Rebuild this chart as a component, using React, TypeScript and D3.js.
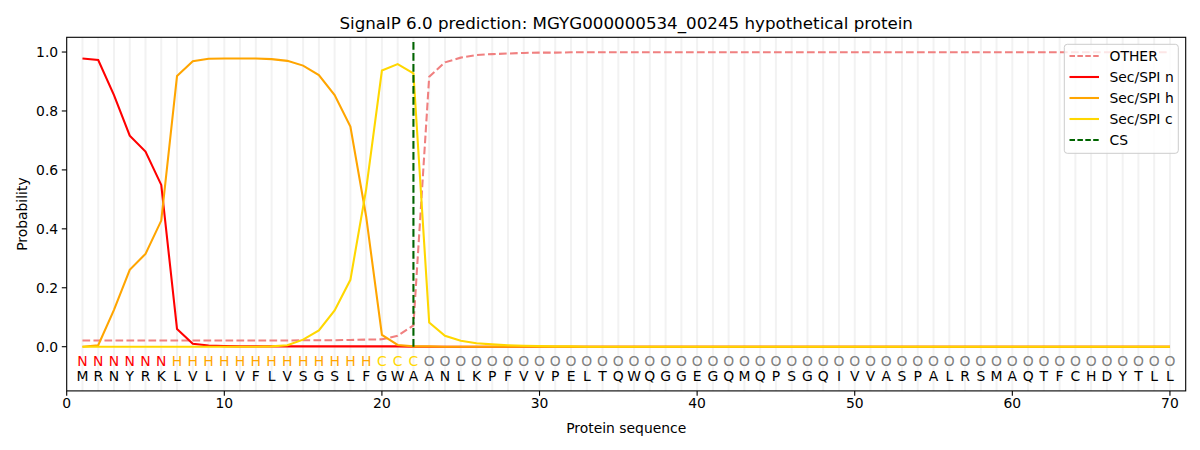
import * as d3 from 'd3'

const sequence = 'MRNYRKLVLIVFLVSGSLFGWAANLKPFVVPELTQWQGGEGQMQPSGQIVVASPALRSMAQTFCHDYTLL'.split('')
const regions = 'NNNNNNHHHHHHHHHHHHHCCCOOOOOOOOOOOOOOOOOOOOOOOOOOOOOOOOOOOOOOOOOOOOOOOO'.split('')

const otherProb = [
  0.021, 0.021, 0.021, 0.021, 0.021, 0.021, 0.021, 0.021, 0.021, 0.021,
  0.021, 0.021, 0.021, 0.021, 0.022, 0.022, 0.022, 0.023, 0.024, 0.025,
  0.037, 0.072, 0.916, 0.965, 0.981, 0.99, 0.993, 0.995, 0.997, 0.998,
  0.998, 0.999, 0.999, 0.999, 0.999, 0.999, 0.999, 0.999, 0.999, 0.999,
  0.999, 0.999, 0.999, 0.999, 0.999, 0.999, 0.999, 0.999, 0.999, 0.999,
  0.999, 0.999, 0.999, 0.999, 0.999, 0.999, 0.999, 0.999, 0.999, 0.999,
  0.999, 0.999, 0.999, 0.999, 0.999, 0.999, 0.999, 0.999, 0.999, 0.999,
]
const spiN = [
  0.978, 0.973, 0.854, 0.716, 0.662, 0.549, 0.06, 0.01, 0.004, 0.002,
  0.001, 0.001, 0.001, 0.001, 0.001, 0.001, 0.001, 0.001, 0.001, 0.001,
  0.001, 0, 0, 0, 0, 0, 0, 0, 0, 0,
  0, 0, 0, 0, 0, 0, 0, 0, 0, 0,
  0, 0, 0, 0, 0, 0, 0, 0, 0, 0,
  0, 0, 0, 0, 0, 0, 0, 0, 0, 0,
  0, 0, 0, 0, 0, 0, 0, 0, 0, 0,
]
const spiH = [
  0.0, 0.005, 0.125, 0.261, 0.315, 0.428, 0.919, 0.969, 0.977, 0.978,
  0.978, 0.978, 0.976, 0.97, 0.954, 0.922, 0.854, 0.747, 0.442, 0.04,
  0.006, 0.001, 0.001, 0, 0, 0, 0, 0, 0, 0,
  0, 0, 0, 0, 0, 0, 0, 0, 0, 0,
  0, 0, 0, 0, 0, 0, 0, 0, 0, 0,
  0, 0, 0, 0, 0, 0, 0, 0, 0, 0,
  0, 0, 0, 0, 0, 0, 0, 0, 0, 0,
]
const spiC = [
  0, 0, 0, 0, 0, 0, 0, 0, 0, 0,
  0, 0, 0.001, 0.005, 0.024, 0.055, 0.123, 0.227, 0.534, 0.937,
  0.959, 0.928, 0.082, 0.037, 0.02, 0.012, 0.008, 0.005, 0.003, 0.002,
  0.001, 0.001, 0, 0, 0, 0, 0, 0, 0, 0,
  0, 0, 0, 0, 0, 0, 0, 0, 0, 0,
  0, 0, 0, 0, 0, 0, 0, 0, 0, 0,
  0, 0, 0, 0, 0, 0, 0, 0, 0, 0,
]
const cleavageSite = 22
const xTicks = [0, 10, 20, 30, 40, 50, 60, 70]
const yTicks = [0, 0.2, 0.4, 0.6, 0.8, 1.0]

const series = [
  { name: 'OTHER', values: otherProb, color: '#f08080', dash: '7.7,3.3' },
  { name: 'Sec/SPI n', values: spiN, color: '#ff0000', dash: '' },
  { name: 'Sec/SPI h', values: spiH, color: '#ffa500', dash: '' },
  { name: 'Sec/SPI c', values: spiC, color: '#ffd700', dash: '' },
]
const regionColor: Record<string, string> = { N: '#ff0000', H: '#ffa500', C: '#ffd700', O: '#808080' }

const font = 'DejaVu Sans, sans-serif'

export default function App() {
  const m = { left: 66.7, right: 1185.7, top: 37.3, bottom: 390.9 }
  const x = d3.scaleLinear().domain([0, 71]).range([m.left, m.right])
  const y = d3.scaleLinear().domain([-0.15, 1.05]).range([m.bottom, m.top])
  const positions = sequence.map((_, i) => i + 1)

  const line = (vals: number[]) =>
    d3.line<number>().x((_, i) => x(i + 1)).y(v => y(v))(vals) ?? ''

  const legendX = 1064.3
  const legendY = 44.3

  return (
    <svg width={1200} height={450} style={{ position: 'absolute', left: 0, top: 0, background: '#fff' }}
      fontFamily={font}>
      <rect width={1200} height={450} fill="#fff" />
      {positions.map(p => (
        <line key={p} x1={x(p)} x2={x(p)} y1={m.top} y2={m.bottom} stroke="#f2f2f2" strokeWidth={2} />
      ))}
      {series.map(s => (
        <path key={s.name} d={line(s.values)} fill="none" stroke={s.color} strokeWidth={2.08}
          strokeDasharray={s.dash || undefined} />
      ))}
      <line x1={x(cleavageSite)} x2={x(cleavageSite)} y1={y(0)} y2={y(1.036)} stroke="#006400"
        strokeWidth={2.08} strokeDasharray="7.7,3.3" />
      {positions.map((p, i) => (
        <g key={p} fontSize={13.9} textAnchor="middle" dominantBaseline="central">
          <text x={x(p)} y={y(-0.05)} fill={regionColor[regions[i]]}>{regions[i]}</text>
          <text x={x(p)} y={y(-0.1)} fill="#000">{sequence[i]}</text>
        </g>
      ))}
      <rect x={m.left} y={m.top} width={m.right - m.left} height={m.bottom - m.top} fill="none"
        stroke="#000" strokeWidth={1.1} />
      {xTicks.map(t => (
        <g key={t}>
          <line x1={x(t)} x2={x(t)} y1={m.bottom} y2={m.bottom + 4.9} stroke="#000" strokeWidth={1.1} />
          <text x={x(t)} y={m.bottom + 7} fontSize={13.9} textAnchor="middle" dominantBaseline="hanging">{t}</text>
        </g>
      ))}
      {yTicks.map(t => (
        <g key={t}>
          <line x1={m.left - 4.9} x2={m.left} y1={y(t)} y2={y(t)} stroke="#000" strokeWidth={1.1} />
          <text x={m.left - 8.5} y={y(t)} fontSize={13.9} textAnchor="end" dominantBaseline="central">{t.toFixed(1)}</text>
        </g>
      ))}
      <text x={(m.left + m.right) / 2} y={433} fontSize={13.9} textAnchor="middle">Protein sequence</text>
      <text transform={`translate(27,${(m.top + m.bottom) / 2}) rotate(-90)`} fontSize={13.9} textAnchor="middle">Probability</text>
      <text x={(m.left + m.right) / 2} y={29} fontSize={16.7} textAnchor="middle">
        SignalP 6.0 prediction: MGYG000000534_00245 hypothetical protein
      </text>
      <rect x={legendX} y={legendY} width={114} height={109} rx={3} fill="#fff" fillOpacity={0.8}
        stroke="#cccccc" strokeWidth={1} />
      {[...series.map(s => ({ name: s.name, color: s.color, dash: s.dash })),
        { name: 'CS', color: '#006400', dash: '7.7,3.3' }].map((s, i) => {
        const cy = 56 + i * 21
        return (
          <g key={s.name}>
            <line x1={1069.5} x2={1099} y1={cy} y2={cy} stroke={s.color} strokeWidth={2.08}
              strokeDasharray={s.dash ? '5.5,2.4' : undefined} />
            <text x={1109.5} y={cy} fontSize={13.9} dominantBaseline="central">{s.name}</text>
          </g>
        )
      })}
    </svg>
  )
}
